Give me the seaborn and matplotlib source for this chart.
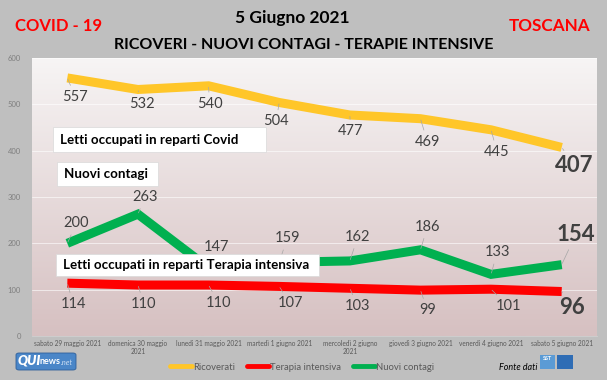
import matplotlib
matplotlib.use("Agg")
import matplotlib.pyplot as plt
from matplotlib.lines import Line2D
from matplotlib.patches import Rectangle, FancyBboxPatch
import seaborn as sns
import numpy as np
import pandas as pd

# dati
giorni = ["sabato 29 maggio 2021", "domenica 30 maggio\n2021", "lunedì 31 maggio 2021",
          "martedì 1 giugno 2021", "mercoledì 2 giugno\n2021", "giovedì 3 giugno 2021",
          "venerdì 4 giugno 2021", "sabato 5 giugno 2021"]
ricoverati = [557, 532, 540, 504, 477, 469, 445, 407]
terapia = [114, 110, 110, 107, 103, 99, 101, 96]
contagi = [200, 263, 147, 159, 162, 186, 133, 154]
serie = ["Ricoverati", "Terapia intensiva", "Nuovi contagi"]
colori = ["#FFC629", "#FF0000", "#00B050"]

# spostamento etichette (pixel, dx / dy verso il basso)
off_ric = [(8, 19), (4, 14), (1, 18), (-3, 19), (1, 16), (7, 23), (6, 22), (13, 18)]
off_ter = [(6, 21), (6, 19), (10, 18), (11, 17), (8, 18), (7, 20), (17, 17), (10, 16)]
off_con = [(9, -20), (7, -17), (8, -21), (8, -24), (8, -24), (7, -23), (6, -22), (14, -30)]

W, H = 607, 380
def fx(x): return x / W
def fy(y): return 1 - y / H

sns.set_theme(style="white")
plt.rcParams['font.family'] = ['Lato', 'DejaVu Sans']

pos = np.arange(len(giorni))
df = pd.DataFrame({
    "pos": np.tile(pos, 3),
    "valore": ricoverati + terapia + contagi,
    "serie": np.repeat(serie, len(giorni)),
})

fig = plt.figure(figsize=(W / 100, H / 100), dpi=100)
fig.patch.set_facecolor("#bfbfbf")

rect = [fx(32), fy(336), (597 - 32) / W, (336 - 58) / H]
bg = fig.add_axes(rect, zorder=0)
top = np.array([247, 245, 245]) / 255
bot = np.array([214, 192, 193]) / 255
t = np.linspace(0, 1, 256)[:, None]
grad = (top * (1 - t) + bot * t)[:, None, :]
bg.imshow(grad, aspect="auto", extent=(0, 1, 0, 1))
bg.axis("off")

ax = fig.add_axes(rect, zorder=1)
ax.patch.set_alpha(0)
sns.lineplot(data=df, x="pos", y="valore", hue="serie", hue_order=serie,
             palette=dict(zip(serie, colori)), lw=6.5, sort=False, legend=False,
             solid_capstyle="butt", solid_joinstyle="miter", ax=ax)

ax.set_xlim(-0.5, len(giorni) - 0.5)
ax.set_ylim(0, 600)
ax.set_yticks(range(0, 601, 100))
ax.yaxis.grid(True, color="white", lw=0.7, alpha=0.6)
ax.set_axisbelow(True)
ax.set_xlabel("")
ax.set_ylabel("")
ax.set_xticks(pos, giorni)
ax.set_xticks(np.arange(-0.5, len(giorni), 1), minor=True)
ax.tick_params(axis="x", which="major", length=0, pad=3, labelsize=4.7, labelcolor="#595959")
ax.tick_params(axis="x", which="minor", length=2.5, color="#d0d0d0", width=0.6)
ax.tick_params(axis="y", length=0, pad=8, labelsize=5.5, labelcolor="#7f7f7f")
for s in ["top", "right", "left"]:
    ax.spines[s].set_visible(False)
ax.spines["bottom"].set_color("#d0d0d0")
ax.spines["bottom"].set_linewidth(0.6)

# etichette dati
for valori, offs in [(ricoverati, off_ric), (terapia, off_ter), (contagi, off_con)]:
    for i, (v, (dx, dy)) in enumerate(zip(valori, offs)):
        ultimo = i == len(valori) - 1
        ax.annotate(str(v), xy=(i, v), xytext=(dx * 0.72, -dy * 0.72), textcoords="offset points",
                    ha="center", va="center", color="#404040",
                    fontsize=16 if ultimo else 10.5, fontweight="bold" if ultimo else "normal",
                    arrowprops=dict(arrowstyle="-", color="#a6a6a6", lw=0.5, shrinkA=1, shrinkB=1),
                    zorder=5)

# riquadri di testo
riquadri = [("Letti occupati in reparti Covid", 53, 127, 266, 152),
            ("Nuovi contagi", 57, 162, 158, 186),
            ("Letti occupati in reparti Terapia intensiva", 56, 254, 319, 276)]
for testo, x0, y0, x1, y1 in riquadri:
    fig.patches.append(Rectangle((fx(x0), fy(y1)), (x1 - x0) / W, (y1 - y0) / H,
                                 transform=fig.transFigure, facecolor="white",
                                 edgecolor="#d9d9d9", lw=0.5, zorder=3))
    fig.text(fx(x0 + 7), fy((y0 + y1) / 2), testo, fontsize=9.6, fontweight="bold",
             color="black", ha="left", va="center", zorder=4)

# titoli
fig.text(fx(59), fy(26), "COVID - 19", color="#FF0000", fontsize=12, fontweight="bold",
         ha="center", va="center")
fig.text(fx(550), fy(26), "TOSCANA", color="#FF0000", fontsize=12.3, fontweight="bold",
         ha="center", va="center")
fig.text(fx(292), fy(18), "5 Giugno 2021", color="black", fontsize=12.5, fontweight="bold",
         ha="center", va="center")
fig.text(fx(304), fy(45), "RICOVERI - NUOVI CONTAGI - TERAPIE INTENSIVE", color="black",
         fontsize=11.5, fontweight="bold", ha="center", va="center")

# legenda
maniglie = [Line2D([], [], color=c, lw=3.5) for c in colori]
fig.legend(maniglie, serie, loc="center", bbox_to_anchor=(fx(302), fy(367)), ncol=3,
           frameon=False, fontsize=6.8, labelcolor="#595959", handlelength=2.3,
           handletextpad=0.1, columnspacing=1.3, borderpad=0)

# logo QUInews e fonte
fig.patches.append(FancyBboxPatch((fx(16), fy(370)), 60 / W, 17 / H, boxstyle="round,pad=0,rounding_size=0.005",
                                  transform=fig.transFigure, facecolor="#4a86c8",
                                  edgecolor="#2e5f99", lw=0.6))
fig.text(fx(18), fy(361), "QUI", color="white", fontsize=9.5, fontweight="heavy",
         ha="left", va="center", style="italic")
fig.text(fx(40), fy(362), "news", color="white", fontsize=6.5, fontweight="bold",
         ha="left", va="center")
fig.text(fx(61), fy(362.5), ".net", color="#c9dcf2", fontsize=5.5, ha="left", va="center",
         style="italic")

fig.text(fx(518), fy(368), "Fonte dati", color="black", fontsize=6.5, style="italic",
         ha="center", va="center")
fig.patches.append(Rectangle((fx(540), fy(369)), 15 / W, 14 / H, transform=fig.transFigure,
                             facecolor="#5b9bd5", edgecolor="none"))
fig.patches.append(Rectangle((fx(557), fy(369)), 16 / W, 14 / H, transform=fig.transFigure,
                             facecolor="#2f6db5", edgecolor="none"))
fig.text(fx(547.5), fy(359), "SST", color="white", fontsize=4, fontweight="bold",
         ha="center", va="center")

fig.savefig("out.png", dpi=100, facecolor=fig.get_facecolor())
